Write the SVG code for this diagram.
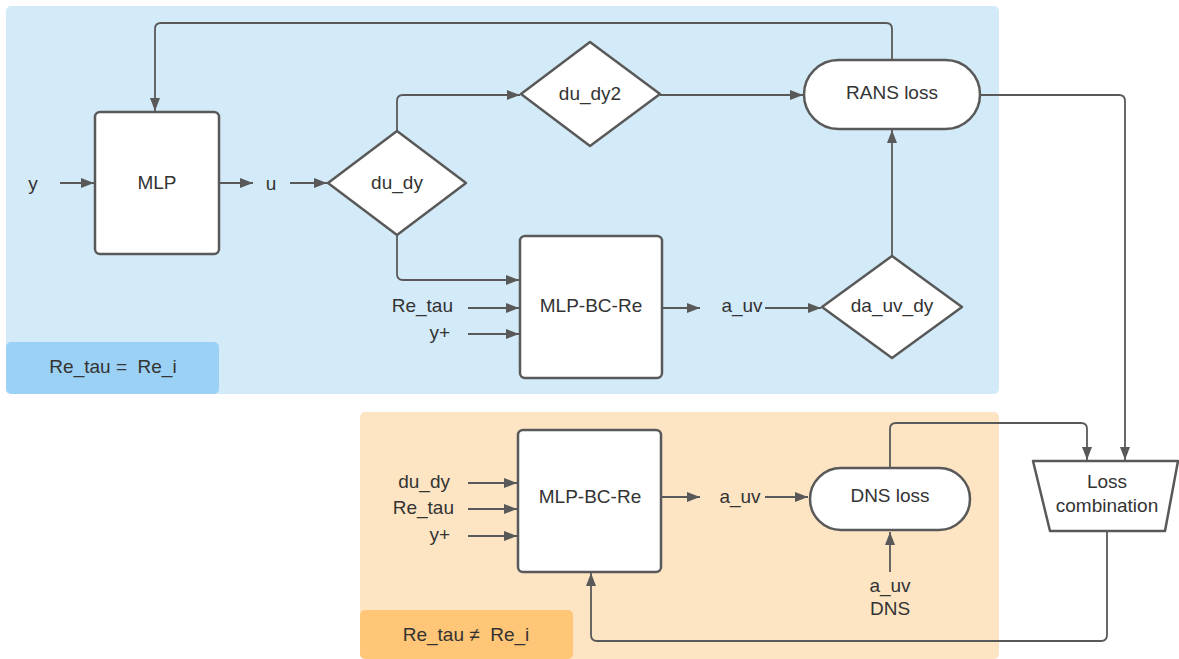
<svg xmlns="http://www.w3.org/2000/svg" width="1179" height="659" viewBox="0 0 1179 659">
<defs>
<marker id="ah" markerUnits="userSpaceOnUse" markerWidth="16" markerHeight="14" refX="13" refY="7" orient="auto">
<path d="M0,2 L13,7 L0,12 Z" fill="#595959"/>
</marker>
<style>
.t{font-family:"Liberation Sans",Arial,sans-serif;font-size:19px;fill:#333333;white-space:pre;}
.m{text-anchor:middle;}
.e{text-anchor:end;}
.n{fill:#ffffff;stroke:#595959;stroke-width:2.5;stroke-linejoin:round;}
.c{fill:none;stroke:#595959;stroke-width:1.8;stroke-linejoin:round;}
.a{marker-end:url(#ah);}
</style>
</defs>
<rect width="1179" height="659" fill="#ffffff"/>
<g id="panel-top">
<rect x="6" y="6" width="993" height="388" rx="5" fill="#d3eaf8"/>
<rect x="6" y="342" width="213" height="52" rx="5" fill="#9bd1f4"/>
<text class="t m" x="113" y="373" xml:space="preserve">Re_tau =  Re_i</text>
</g>
<g id="panel-bottom">
<rect x="360" y="412" width="639" height="247" rx="5" fill="#fde5c4"/>
<rect x="360" y="610" width="213" height="49" rx="5" fill="#ffc677"/>
<text class="t m" x="466" y="641" xml:space="preserve">Re_tau ≠  Re_i</text>
</g>
<g id="connectors">
<path class="c a" d="M60,183 H94"/>
<path class="c a" d="M220,183 H253"/>
<path class="c a" d="M290,183 H327"/>
<path class="c a" d="M397,131 V101 Q397,95 403,95 H520"/>
<path class="c a" d="M660,95 H803"/>
<path class="c a" d="M892,60 V29 Q892,23 886,23 H161 Q155,23 155,29 V111"/>
<path class="c a" d="M397,235 V274 Q397,280 403,280 H519"/>
<path class="c a" d="M468,308 H519"/>
<path class="c a" d="M468,334 H519"/>
<path class="c a" d="M663,308 H700"/>
<path class="c a" d="M765,308 H821"/>
<path class="c a" d="M892,256 V130"/>
<path class="c a" d="M981,95 H1119 Q1125,95 1125,101 V460"/>
<path class="c a" d="M468,483 H517"/>
<path class="c a" d="M468,509 H517"/>
<path class="c a" d="M468,536 H517"/>
<path class="c a" d="M662,497 H700"/>
<path class="c a" d="M765,497 H808"/>
<path class="c a" d="M890,572 V532"/>
<path class="c a" d="M890,470 V429 Q890,423 896,423 H1081 Q1087,423 1087,429 V460"/>
<path class="c a" d="M1107,531 V635 Q1107,641 1101,641 H597 Q591,641 591,635 V573"/>
</g>
<g id="label-y"><text class="t m" x="33" y="190">y</text></g>
<g id="label-u"><text class="t m" x="271" y="190">u</text></g>
<g id="node-mlp">
<rect class="n" x="95" y="112" width="124" height="142" rx="5"/>
<text class="t m" x="157" y="189">MLP</text>
</g>
<g id="node-du-dy">
<path class="n" d="M397,131 L466,183 L397,235 L328,183 Z"/>
<text class="t m" x="397" y="189">du_dy</text>
</g>
<g id="node-du-dy2">
<path class="n" d="M590,42 L660,94 L590,146 L521,94 Z"/>
<text class="t m" x="590" y="100">du_dy2</text>
</g>
<g id="node-rans">
<rect class="n" x="804" y="60" width="176" height="69" rx="34.5"/>
<text class="t m" x="892" y="99">RANS loss</text>
</g>
<g id="node-mlpbc-top">
<rect class="n" x="520" y="236" width="142" height="142" rx="5"/>
<text class="t m" x="591" y="312">MLP-BC-Re</text>
</g>
<g id="labels-top-inputs">
<text class="t e" x="453" y="312">Re_tau</text>
<text class="t e" x="450" y="339">y+</text>
<text class="t m" x="742" y="312">a_uv</text>
</g>
<g id="node-da-uv-dy">
<path class="n" d="M892,256 L962,307 L892,358 L822,307 Z"/>
<text class="t m" x="892" y="312">da_uv_dy</text>
</g>
<g id="node-mlpbc-bottom">
<rect class="n" x="518" y="430" width="143" height="142" rx="5"/>
<text class="t m" x="590" y="503">MLP-BC-Re</text>
</g>
<g id="labels-bottom-inputs">
<text class="t e" x="450" y="488">du_dy</text>
<text class="t e" x="454" y="514">Re_tau</text>
<text class="t e" x="450" y="541">y+</text>
<text class="t m" x="740" y="503">a_uv</text>
</g>
<g id="node-dns">
<rect class="n" x="810" y="468" width="160" height="62" rx="31"/>
<text class="t m" x="890" y="502">DNS loss</text>
</g>
<g id="label-auv-dns">
<text class="t m" x="890" y="592">a_uv</text>
<text class="t m" x="890" y="615">DNS</text>
</g>
<g id="node-loss-combination">
<path class="n" d="M1033,461 L1178,461 L1165,531 L1050,531 Z"/>
<text class="t m" x="1107" y="488">Loss</text>
<text class="t m" x="1107" y="512">combination</text>
</g>
</svg>
